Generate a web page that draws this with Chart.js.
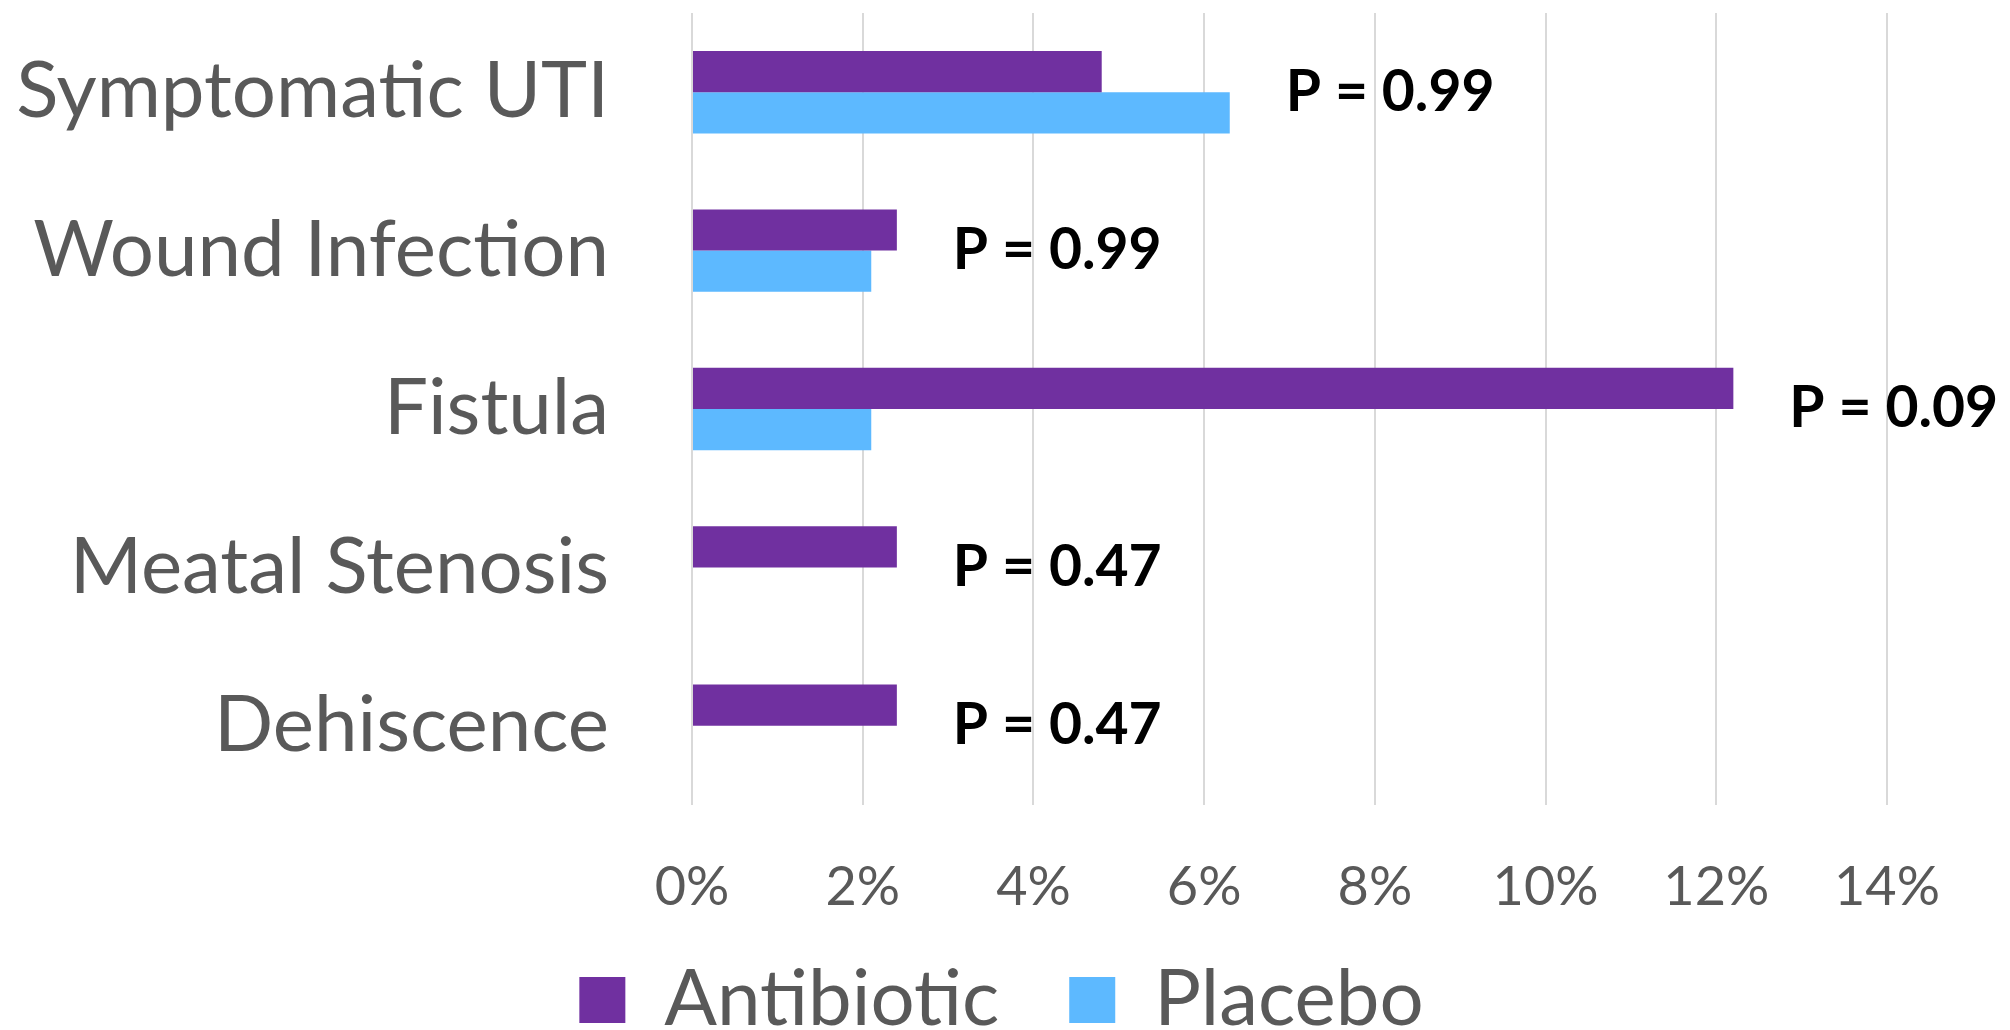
<!DOCTYPE html>
<html>
<head>
<meta charset="utf-8">
<script src="https://cdn.jsdelivr.net/npm/chart.js@4"></script>
<style>
  html, body { margin: 0; padding: 0; background: #fff; }
  canvas { display: block; }
</style>
</head>
<body>
<canvas id="chart" width="2010" height="1030"></canvas>
<script>
const categories = ['Symptomatic UTI', 'Wound Infection', 'Fistula', 'Meatal Stenosis', 'Dehiscence'];
const antibiotic = [4.8, 2.4, 12.2, 2.4, 2.4];
const placebo = [6.3, 2.1, 2.1, 0, 0];
const pLabels = ['P = 0.99', 'P = 0.99', 'P = 0.09', 'P = 0.47', 'P = 0.47'];

const grey = '#595959';

// P value text to the right of each group of bars
const pValuePlugin = {
    id: 'pValues',
    afterDatasetsDraw(chart) {
        const ctx = chart.ctx;
        const xScale = chart.scales.x;
        const yScale = chart.scales.y;
        ctx.save();
        ctx.font = 'bold 57px Lato';
        ctx.fillStyle = '#000';
        ctx.textAlign = 'left';
        ctx.textBaseline = 'middle';
        categories.forEach((c, i) => {
            const end = Math.max(antibiotic[i], placebo[i]);
            const x = xScale.getPixelForValue(end) + 56;
            const y = yScale.getPixelForValue(i);
            ctx.fillText(pLabels[i], x, y);
        });
        ctx.restore();
    }
};

// nudge the legend row up a little (it is squeezed into the bottom strip)
// and a bit to the right; the bottom edge stays put so the text is not clipped
const legendShift = {
    id: 'legendShift',
    afterLayout(chart) {
        chart.legend.top -= 30;
        chart.legend.bottom = chart.height;
        chart.legend.left += 58;
        chart.legend.right += 58;
    }
};

Chart.defaults.font.family = 'Lato';
Chart.defaults.color = grey;

new Chart(document.getElementById('chart').getContext('2d'), {
    type: 'bar',
    data: {
        labels: categories,
        datasets: [{
            label: 'Antibiotic',
            data: antibiotic,
            backgroundColor: '#7030A0',
            borderWidth: 0,
            categoryPercentage: 0.52,
            barPercentage: 1.0
        }, {
            label: 'Placebo',
            data: placebo,
            backgroundColor: '#5DB9FF',
            borderWidth: 0,
            categoryPercentage: 0.52,
            barPercentage: 1.0
        }]
    },
    options: {
        indexAxis: 'y',
        responsive: false,
        animation: false,
        events: [],
        layout: {
            padding: { top: 13, right: 123, bottom: 0, left: 0 }
        },
        plugins: {
            tooltip: { enabled: false },
            legend: {
                position: 'bottom',
                maxHeight: 109,
                labels: {
                    boxWidth: 46,
                    boxHeight: 46,
                    padding: 70,
                    color: grey,
                    font: { size: 78 }
                }
            }
        },
        scales: {
            x: {
                min: 0,
                max: 14,
                grid: { color: '#D9D9D9', lineWidth: 2, drawTicks: false },
                border: { display: false },
                ticks: {
                    stepSize: 2,
                    padding: 50,
                    color: grey,
                    font: { size: 54 },
                    callback: v => v + '%'
                },
                afterFit(scale) { scale.height = 116; }
            },
            y: {
                grid: { display: false, drawTicks: false },
                border: { display: false },
                ticks: {
                    padding: 83,
                    color: grey,
                    font: { size: 78 }
                },
                afterFit(scale) {
                    scale.width = 692;
                    scale.paddingTop = 0;
                    scale.paddingBottom = 0;
                }
            }
        }
    },
    plugins: [pValuePlugin, legendShift]
});
</script>
</body>
</html>
